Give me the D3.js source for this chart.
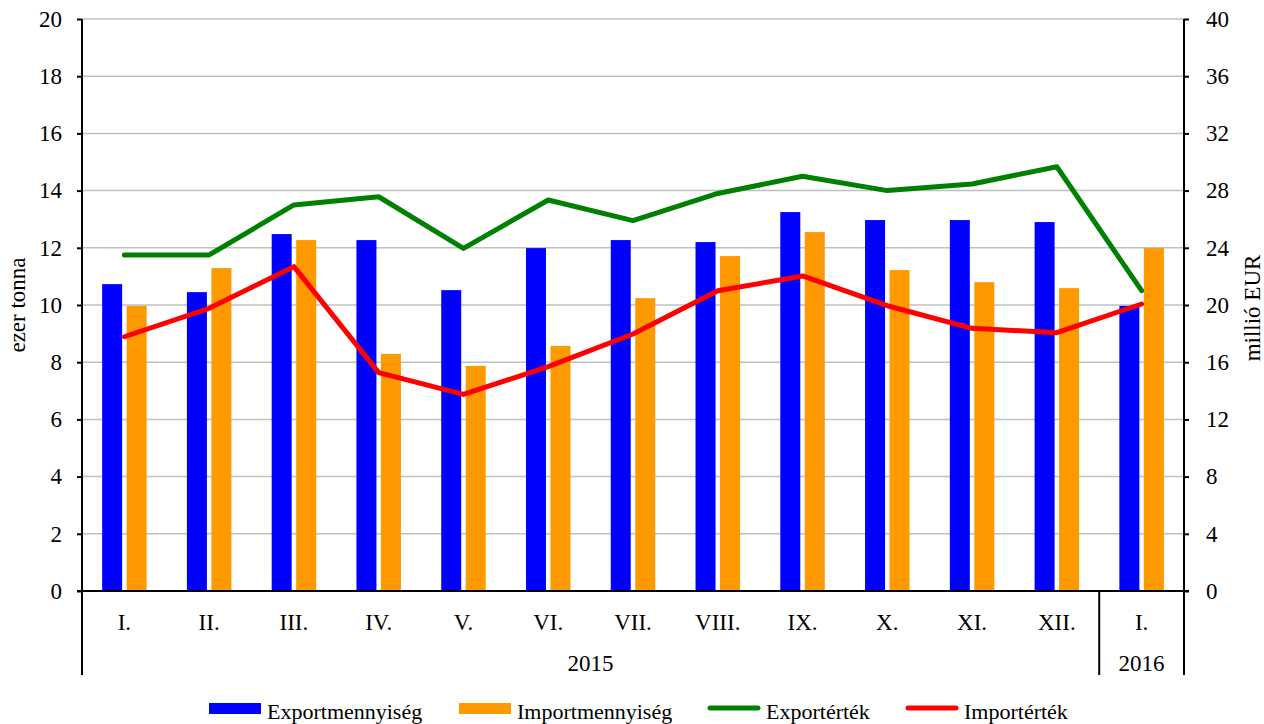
<!DOCTYPE html>
<html>
<head>
<meta charset="utf-8">
<script src="https://cdn.jsdelivr.net/npm/d3@7"></script>
<style>
body { margin: 0; background: #fff; }
svg text { font-family: "Liberation Serif", "Times New Roman", Times, Tinos, "DejaVu Serif", serif; fill: #000; }
</style>
</head>
<body>
<div id="chart"></div>
<script>
// data
var months = ["I.", "II.", "III.", "IV.", "V.", "VI.", "VII.", "VIII.", "IX.", "X.", "XI.", "XII.", "I."];
var years = [{label: "2015", from: 0, to: 12}, {label: "2016", from: 12, to: 13}];
var exportQty = [10.73, 10.45, 12.48, 12.27, 10.52, 11.99, 12.27, 12.2, 13.25, 12.97, 12.97, 12.9, 9.97];
var importQty = [9.97, 11.29, 12.27, 8.29, 7.87, 8.57, 10.24, 11.71, 12.55, 11.22, 10.8, 10.59, 11.99];
var exportVal = [23.5, 23.5, 27.0, 27.57, 23.96, 27.34, 25.9, 27.8, 29.0, 28.0, 28.46, 29.67, 21.0];
var importVal = [17.78, 19.77, 22.68, 15.27, 13.75, 15.69, 17.97, 21.0, 22.03, 19.95, 18.37, 18.06, 20.07];
var leftTicks = [0, 2, 4, 6, 8, 10, 12, 14, 16, 18, 20];
var rightTicks = [0, 4, 8, 12, 16, 20, 24, 28, 32, 36, 40];

var W = 1264, H = 724;
var margin = {top: 19, right: 80, bottom: 133, left: 82};
var width = W - margin.left - margin.right;
var height = H - margin.top - margin.bottom;
var serif = "'Liberation Serif', 'Times New Roman', Times, Tinos, 'DejaVu Serif', serif";
var fs = 23;

var svg = d3.select("#chart").append("svg")
    .attr("width", W)
    .attr("height", H)
    .attr("font-family", serif)
    .append("g")
    .attr("transform", "translate(" + margin.left + "," + margin.top + ")");

var x = d3.scaleBand()
    .domain(d3.range(months.length))
    .range([0, width]);

var yL = d3.scaleLinear().domain([0, 20]).range([height, 0]);
var yR = d3.scaleLinear().domain([0, 40]).range([height, 0]);

// gridlines
svg.selectAll(".grid")
    .data(leftTicks.slice(1))
    .enter()
    .append("line")
    .attr("class", "grid")
    .attr("x1", 0)
    .attr("x2", width)
    .attr("y1", function (d) { return yL(d); })
    .attr("y2", function (d) { return yL(d); })
    .attr("stroke", "#c0c0c0")
    .attr("stroke-width", 1.5);

// bars
var barW = 20, gap = 4.5;
svg.selectAll(".barExp")
    .data(exportQty)
    .enter()
    .append("rect")
    .attr("x", function (d, i) { return x(i) + x.bandwidth() / 2 - gap / 2 - barW; })
    .attr("y", function (d) { return yL(d); })
    .attr("width", barW)
    .attr("height", function (d) { return height - yL(d); })
    .attr("fill", "#0000ff");

svg.selectAll(".barImp")
    .data(importQty)
    .enter()
    .append("rect")
    .attr("x", function (d, i) { return x(i) + x.bandwidth() / 2 + gap / 2; })
    .attr("y", function (d) { return yL(d); })
    .attr("width", barW)
    .attr("height", function (d) { return height - yL(d); })
    .attr("fill", "#ff9900");

// lines
var lineR = d3.line()
    .x(function (d, i) { return x(i) + x.bandwidth() / 2; })
    .y(function (d) { return yR(d); });

svg.append("path")
    .datum(exportVal)
    .attr("d", lineR)
    .attr("fill", "none")
    .attr("stroke", "#008000")
    .attr("stroke-width", 5)
    .attr("stroke-linecap", "round")
    .attr("stroke-linejoin", "round");

svg.append("path")
    .datum(importVal)
    .attr("d", lineR)
    .attr("fill", "none")
    .attr("stroke", "#ff0000")
    .attr("stroke-width", 5)
    .attr("stroke-linecap", "round")
    .attr("stroke-linejoin", "round");

// axes
var axisL = svg.append("g")
    .call(d3.axisLeft(yL).tickValues(leftTicks).tickSize(5).tickPadding(15));
var axisR = svg.append("g")
    .attr("transform", "translate(" + width + ",0)")
    .call(d3.axisRight(yR).tickValues(rightTicks).tickSize(5).tickPadding(17));

[axisL, axisR].forEach(function (a) {
    a.attr("font-family", serif).attr("font-size", fs);
    a.select(".domain").attr("stroke", "#000").attr("stroke-width", 2);
    a.selectAll(".tick line").attr("stroke", "#000").attr("stroke-width", 2);
    a.selectAll(".tick text").attr("fill", "#000");
});
axisR.select(".domain").attr("d", "M0,0V" + height);
axisL.select(".domain").attr("d", "M0,0V" + height);

// x axis baseline and category frame
svg.append("line")
    .attr("x1", -5).attr("x2", width + 5)
    .attr("y1", height).attr("y2", height)
    .attr("stroke", "#000").attr("stroke-width", 2);

var frameBottom = height + 84;
var seps = [0, 12, 13];
svg.selectAll(".sep")
    .data(seps)
    .enter()
    .append("line")
    .attr("x1", function (d) { return d === months.length ? width : x(d); })
    .attr("x2", function (d) { return d === months.length ? width : x(d); })
    .attr("y1", height)
    .attr("y2", frameBottom)
    .attr("stroke", "#000")
    .attr("stroke-width", 2);

svg.selectAll(".month")
    .data(months)
    .enter()
    .append("text")
    .attr("x", function (d, i) { return x(i) + x.bandwidth() / 2; })
    .attr("y", height + 39)
    .attr("text-anchor", "middle")
    .attr("font-size", fs)
    .text(function (d) { return d; });

svg.selectAll(".year")
    .data(years)
    .enter()
    .append("text")
    .attr("x", function (d) { return (x(d.from) + (d.to === months.length ? width : x(d.to))) / 2; })
    .attr("y", height + 80)
    .attr("text-anchor", "middle")
    .attr("font-size", fs)
    .text(function (d) { return d.label; });

// axis titles
svg.append("text")
    .attr("transform", "translate(" + (-57) + "," + (yL(10)) + ") rotate(-90)")
    .attr("text-anchor", "middle")
    .attr("font-size", fs)
    .text("ezer tonna");

svg.append("text")
    .attr("transform", "translate(" + (width + 76) + "," + (yL(10) + 3) + ") rotate(-90)")
    .attr("text-anchor", "middle")
    .attr("font-size", fs)
    .text("millió EUR");

// legend
var legend = [
    {name: "Exportmennyiség", color: "#0000ff", type: "rect", x: 209},
    {name: "Importmennyiség", color: "#ff9900", type: "rect", x: 459},
    {name: "Exportérték", color: "#008000", type: "line", x: 708},
    {name: "Importérték", color: "#ff0000", type: "line", x: 906}
];
var lg = d3.select("svg").append("g");
legend.forEach(function (d) {
    if (d.type === "rect") {
        lg.append("rect")
            .attr("x", d.x).attr("y", 703)
            .attr("width", 52).attr("height", 11)
            .attr("fill", d.color);
    } else {
        lg.append("line")
            .attr("x1", d.x + 2).attr("x2", d.x + 50)
            .attr("y1", 708).attr("y2", 708)
            .attr("stroke", d.color)
            .attr("stroke-width", 5)
            .attr("stroke-linecap", "round");
    }
    lg.append("text")
        .attr("x", d.x + 58)
        .attr("y", 719)
        .attr("font-size", 22)
        .text(d.name);
});
</script>
</body>
</html>
